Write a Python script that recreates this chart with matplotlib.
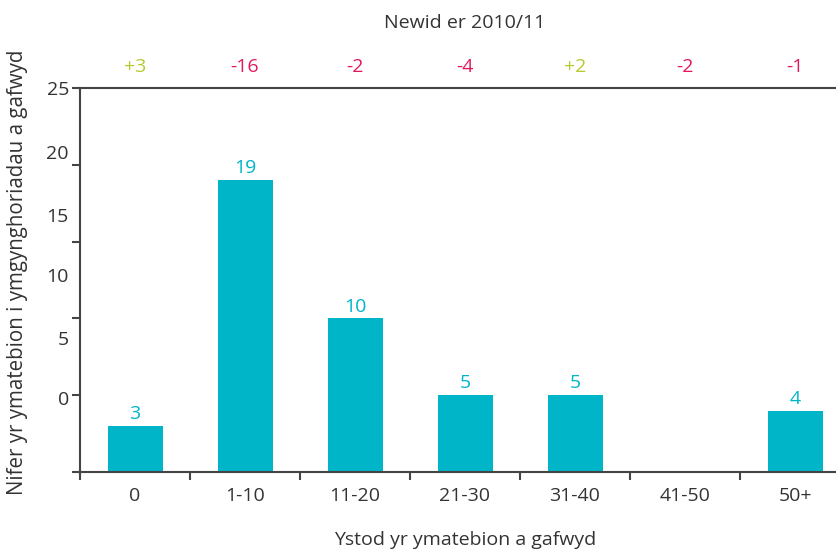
import numpy as np
import matplotlib.pyplot as plt
from matplotlib.ticker import FixedLocator, NullFormatter

plt.rcParams['font.family'] = ['Open Sans', 'DejaVu Sans']

categories = ['0', '1-10', '11-20', '21-30', '31-40', '41-50', '50+']
counts = [3, 19, 10, 5, 5, 0, 4]
changes = ['+3', '-16', '-2', '-4', '+2', '-2', '-1']

# the y labels in the original sit off their ticks
ytick_vals = [0, 5, 10, 15, 20, 25]
ylabel_text = ['0', '5', '10', '15', '20', '25']
ylabel_pos = [4.82, 8.72, 12.83, 16.73, 20.83, 25]

bar_col = '#00B5C8'
up_col = '#B7C92E'
down_col = '#E2185B'
txt_col = '#333333'
axis_col = '#444444'
fs = 14

fig = plt.figure(figsize=(8.36, 5.54), dpi=100)
ax = fig.add_axes([80 / 836, 82 / 554, 770 / 836, 384 / 554])

x = np.arange(len(categories))
bars = ax.bar(x, counts, width=0.5, color=bar_col)

for xi, v in zip(x, counts):
    if v > 0:
        ax.annotate(str(v), (xi, v), xytext=(0, 2), textcoords='offset points',
                    ha='center', va='bottom', color=bar_col, fontsize=fs)

for xi, c in zip(x, changes):
    col = up_col if c.startswith('+') else down_col
    ax.text(xi, 1.055, c, transform=ax.get_xaxis_transform(), ha='center',
            va='center', color=col, fontsize=fs)

ax.text(0.5 * (len(categories) - 1), 1.168, 'Newid er 2010/11',
        transform=ax.get_xaxis_transform(), ha='center', va='center',
        color=txt_col, fontsize=fs)

ax.set_xlim(-0.5, len(categories) - 0.5)
ax.set_ylim(0, 25)

ax.xaxis.set_major_locator(FixedLocator(np.arange(-0.5, len(categories), 1.0)))
ax.xaxis.set_major_formatter(NullFormatter())
ax.xaxis.set_minor_locator(FixedLocator(x))
ax.set_xticklabels(categories, minor=True)
ax.tick_params(axis='x', which='major', length=6, width=1.5, color=axis_col)
ax.tick_params(axis='x', which='minor', length=0, pad=11, labelsize=fs,
               labelcolor=txt_col)

ax.yaxis.remove_overlapping_locs = False
ax.yaxis.set_major_locator(FixedLocator(ytick_vals))
ax.yaxis.set_major_formatter(NullFormatter())
ax.yaxis.set_minor_locator(FixedLocator(ylabel_pos))
ax.set_yticklabels(ylabel_text, minor=True)
ax.tick_params(axis='y', which='major', length=6, width=1.5, color=axis_col)
ax.tick_params(axis='y', which='minor', length=0, pad=8, labelsize=fs,
               labelcolor=txt_col)

for s in ['left', 'bottom', 'top']:
    ax.spines[s].set_color(axis_col)
    ax.spines[s].set_linewidth(1.5)
ax.spines['right'].set_visible(False)

ax.set_xlabel('Ystod yr ymatebion a gafwyd', fontsize=fs, color=txt_col,
              va='center')
ax.xaxis.set_label_coords(0.5, -0.177)
ax.set_ylabel('Nifer yr ymatebion i ymgynghoriadau a gafwyd', fontsize=14.8,
              color=txt_col, va='center')
ax.yaxis.set_label_coords(-0.081, 0.52)

fig.savefig('out.png', dpi=100)
